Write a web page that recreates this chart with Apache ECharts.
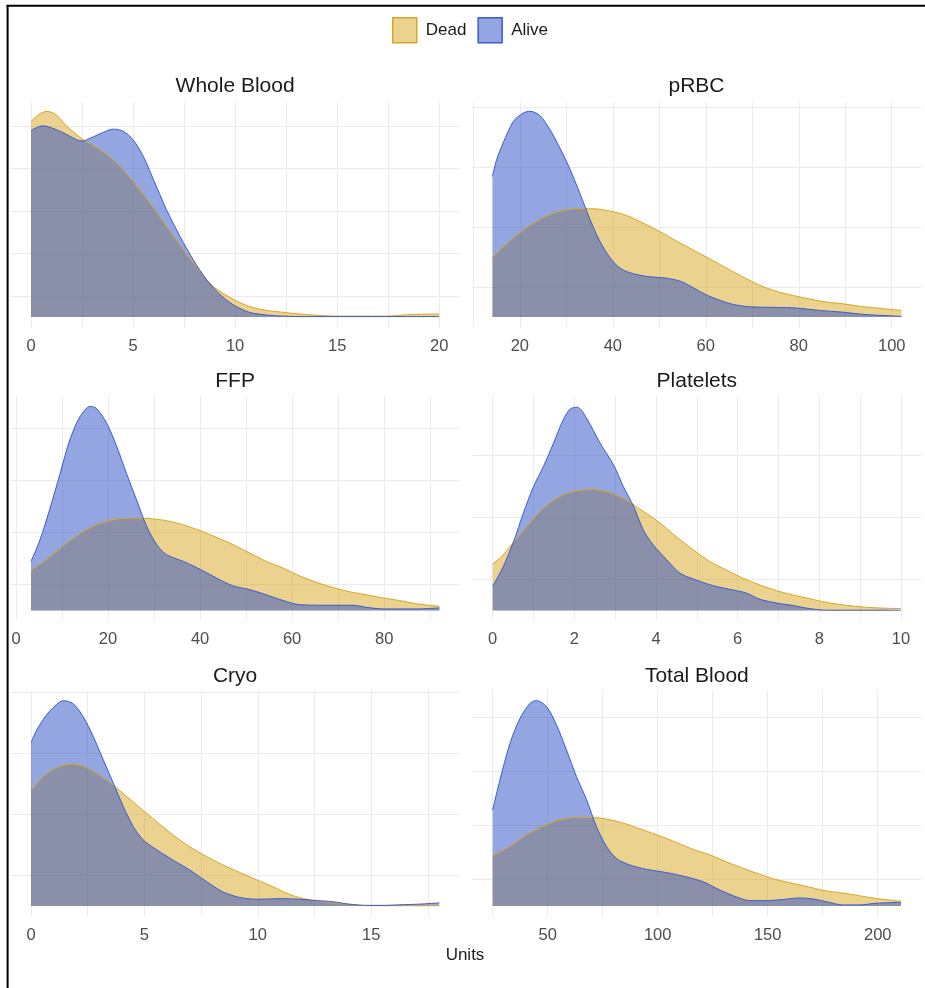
<!DOCTYPE html>
<html>
<head>
<meta charset="utf-8">
<script src="https://cdn.jsdelivr.net/npm/echarts@6/dist/echarts.min.js"></script>
<style>
  html, body { margin: 0; padding: 0; background: #fff; }
  #chart { width: 925px; height: 988px; }
</style>
</head>
<body>
<div id="chart"></div>
<script>
// names
const panelNames = ['Whole Blood', 'pRBC', 'FFP', 'Platelets', 'Cryo', 'Total Blood'];
const groupNames = ['Dead', 'Alive'];
const xAxisTitle = 'Units';

// density curves as [units, density]; density read in grid-line steps (y axis is unlabelled)
const wholeBloodDead = [[0,4.61],[0.4,4.78],[0.77,4.85],[1.2,4.78],[1.75,4.5],[2.24,4.3],[2.56,4.18],[3.38,3.95],[4.2,3.63],[5.0,3.2],[5.83,2.69],[6.64,2.14],[7.46,1.59],[8.28,1.08],[8.93,0.72],[9.9,0.42],[10.7,0.25],[11.5,0.16],[12.36,0.11],[13.2,0.07],[14,0.04],[15,0.02],[16,0.02],[17.4,0.02],[18.7,0.06],[20,0.07]];
const wholeBloodAlive = [[0,4.40],[0.57,4.51],[1.42,4.38],[2.24,4.18],[2.5,4.15],[2.73,4.18],[3.38,4.32],[4.03,4.43],[4.52,4.38],[5.0,4.18],[5.5,3.79],[6.0,3.24],[6.64,2.53],[7.3,1.9],[7.95,1.35],[8.6,0.88],[9.26,0.53],[9.9,0.29],[10.7,0.11],[11.5,0.05],[12.36,0.02],[13.5,0.01],[20,0.01]];

const prbcDead = [[14.1,1.00],[17.8,1.27],[21.4,1.49],[25,1.66],[28.6,1.77],[32.2,1.81],[35.8,1.81],[39.4,1.77],[42.9,1.70],[46.5,1.57],[50.1,1.43],[53.7,1.27],[57.3,1.12],[60.9,0.97],[64.4,0.82],[68,0.67],[71.6,0.53],[75.2,0.43],[78.8,0.36],[82.4,0.30],[86,0.25],[89.5,0.22],[93.1,0.18],[96.7,0.15],[102.1,0.11]];
const prbcAlive = [[14.1,2.35],[15,2.63],[16.4,2.91],[18.6,3.27],[20.7,3.41],[22.2,3.44],[24.3,3.37],[26.5,3.13],[28.6,2.83],[30.8,2.47],[32.9,2.07],[35.1,1.63],[37.2,1.27],[39.4,0.99],[41.5,0.82],[43.7,0.74],[47.2,0.68],[51.5,0.65],[54.4,0.60],[57.3,0.49],[60.1,0.37],[63,0.28],[65.9,0.21],[69.5,0.17],[75.2,0.16],[79.5,0.15],[84.5,0.11],[89.5,0.08],[94.5,0.04],[99.6,0.02],[102.1,0.01]];

const ffpDead = [[3.26,0.77],[7.4,1.03],[11,1.29],[14.6,1.51],[18.2,1.67],[21.9,1.75],[25.5,1.77],[29.1,1.76],[32.7,1.72],[36.4,1.64],[40,1.53],[43.6,1.40],[47.2,1.26],[50.8,1.10],[54.4,0.94],[58.1,0.81],[61.7,0.66],[65.3,0.54],[68.9,0.44],[72.5,0.36],[76.2,0.30],[79.8,0.24],[83.4,0.19],[87,0.13],[92,0.08]];
const ffpAlive = [[3.26,0.94],[5.2,1.35],[7.4,1.96],[9.6,2.63],[11.7,3.27],[13.9,3.71],[16.1,3.91],[17.5,3.87],[19.7,3.59],[21.9,3.14],[24,2.63],[26.2,2.12],[28.4,1.61],[30.6,1.26],[32.7,1.07],[36.4,0.94],[40,0.79],[43.6,0.62],[47.2,0.47],[50.8,0.40],[54.4,0.30],[58.1,0.19],[61.7,0.11],[68.9,0.10],[73.3,0.10],[76.2,0.06],[79.8,0.03],[87,0.03],[92,0.05]];

const plateletsDead = [[0,0.75],[0.26,0.90],[0.51,1.10],[0.83,1.35],[1.24,1.65],[1.65,1.84],[2.07,1.93],[2.47,1.95],[2.87,1.90],[3.27,1.78],[3.69,1.60],[4.1,1.41],[4.5,1.19],[4.91,0.98],[5.32,0.79],[5.73,0.65],[6.14,0.52],[6.55,0.41],[6.96,0.32],[7.36,0.25],[7.77,0.19],[8.18,0.13],[8.59,0.09],[9.0,0.06],[9.49,0.04],[10,0.03]];
const plateletsAlive = [[0,0.39],[0.26,0.71],[0.51,1.11],[0.75,1.57],[1.0,2.0],[1.24,2.32],[1.49,2.70],[1.73,3.08],[1.9,3.25],[2.07,3.28],[2.3,3.10],[2.63,2.70],[2.96,2.35],[3.2,2.0],[3.45,1.68],[3.69,1.30],[3.93,1.06],[4.26,0.82],[4.59,0.60],[4.91,0.51],[5.4,0.40],[5.89,0.33],[6.22,0.28],[6.55,0.18],[6.96,0.12],[7.36,0.08],[7.77,0.03],[8.2,0.005],[10,0.005]];

const cryoDead = [[0,1.89],[0.54,2.12],[1.13,2.26],[1.72,2.32],[2.3,2.29],[2.89,2.17],[3.48,2.02],[4.07,1.84],[4.8,1.61],[5.54,1.38],[6.27,1.16],[7.0,0.97],[7.74,0.81],[8.47,0.67],[9.2,0.55],[9.94,0.43],[10.7,0.31],[11.4,0.19],[12.14,0.11],[12.88,0.07],[13.6,0.04],[14.5,0.01],[15.5,0.005],[18,0.005]];
const cryoAlive = [[0,2.67],[0.25,2.88],[0.69,3.13],[1.13,3.30],[1.42,3.36],[1.86,3.31],[2.3,3.10],[2.75,2.77],[3.19,2.39],[3.63,2.01],[4.07,1.63],[4.51,1.30],[4.95,1.08],[5.54,0.92],[6.27,0.75],[7.0,0.59],[7.74,0.40],[8.47,0.23],[9.2,0.14],[9.94,0.11],[11.1,0.12],[11.85,0.11],[12.58,0.09],[13.3,0.07],[14.05,0.03],[14.8,0.01],[15.5,0.01],[16.26,0.02],[17.1,0.03],[18,0.05]];

const totalDead = [[25,0.93],[32.9,1.11],[40.4,1.32],[48,1.48],[55.6,1.60],[63.1,1.64],[70.7,1.64],[78.3,1.60],[85.8,1.52],[93.4,1.41],[101,1.30],[108.5,1.18],[116.1,1.05],[123.6,0.95],[131.2,0.82],[138.8,0.70],[146.3,0.59],[153.9,0.49],[161.4,0.42],[169,0.35],[176.6,0.28],[184.1,0.24],[191.7,0.19],[199.2,0.14],[210.6,0.09]];
const totalAlive = [[25,1.78],[28.3,2.34],[32.9,3.02],[37.4,3.48],[42,3.76],[45,3.81],[49.5,3.70],[54,3.36],[58.6,2.89],[63.1,2.40],[67.7,1.97],[72.2,1.47],[76.8,1.10],[81.3,0.88],[87.4,0.76],[94.9,0.68],[104,0.62],[113,0.54],[120.6,0.45],[128.1,0.30],[135.7,0.17],[141.8,0.10],[149.4,0.10],[156.9,0.12],[164.5,0.15],[170.6,0.13],[176.6,0.08],[184.1,0.02],[191.7,0.02],[199.2,0.05],[210.6,0.07]];

const deadCurves = [wholeBloodDead, prbcDead, ffpDead, plateletsDead, cryoDead, totalDead];
const aliveCurves = [wholeBloodAlive, prbcAlive, ffpAlive, plateletsAlive, cryoAlive, totalAlive];

// x ranges (data range padded 5% like ggplot) and label steps
const xMins = [-1, 9.6, -1.17, -0.5, -0.9, 15.7];
const xMaxs = [21, 106.4, 96.4, 10.5, 18.9, 219.9];
const xSteps = [5, 20, 20, 2, 5, 50];

// panel placement in px
const panels = [
  { left: 10.6,  width: 449,   top: 102,   base: 317,   step: 42.4, titleY: 86.5 },
  { left: 471.5, width: 450,   top: 102,   base: 317,   step: 59.8, titleY: 86.5 },
  { left: 10.6,  width: 449,   top: 396,   base: 610.5, step: 52.2, titleY: 381.5 },
  { left: 472.3, width: 449,   top: 396,   base: 610.5, step: 62,   titleY: 381.5 },
  { left: 10.6,  width: 449,   top: 690.5, base: 906,   step: 61.1, titleY: 676.5 },
  { left: 472.2, width: 449.3, top: 690.5, base: 906,   step: 53.9, titleY: 676.5 }
];

const font = '"Liberation Sans", Arial, sans-serif';
const gridColor = '#ebebeb';
const deadLine = '#DAA520', deadFill = 'rgba(218,165,32,0.5)';
const aliveLine = '#3A5BD4', aliveFill = 'rgba(39,78,198,0.5)';

let grids = [], xAxes = [], yAxes = [], series = [], graphics = [];
panels.forEach((p, i) => {
  grids.push({ left: p.left, top: p.top, width: p.width, height: p.base + 10 - p.top });
  xAxes.push({
    type: 'value', gridIndex: i, min: xMins[i], max: xMaxs[i],
    minInterval: xSteps[i], maxInterval: xSteps[i],
    axisLine: { show: false }, axisTick: { show: false },
    axisLabel: { color: '#4d4d4d', fontSize: 16.5, fontFamily: font, margin: 10.5, showMinLabel: false, showMaxLabel: false },
    splitLine: { show: true, showMinLine: false, showMaxLine: false, lineStyle: { color: gridColor, width: 1 } },
    minorTick: { show: false, splitNumber: 2 },
    minorSplitLine: { show: true, lineStyle: { color: gridColor, width: 1 } }
  });
  yAxes.push({
    type: 'value', gridIndex: i, min: -10 / p.step, max: (p.base - p.top) / p.step,
    minInterval: 1, maxInterval: 1,
    axisLine: { show: false }, axisTick: { show: false }, axisLabel: { show: false },
    splitLine: { show: false },
    minorTick: { show: false, splitNumber: 2 },
    minorSplitLine: { show: true, lineStyle: { color: gridColor, width: 1 } }
  });
  series.push({
    name: 'Dead', type: 'line', xAxisIndex: i, yAxisIndex: i, data: deadCurves[i],
    smooth: 0.3, showSymbol: false, silent: true,
    lineStyle: { color: deadLine, width: 1 }, itemStyle: { color: deadLine },
    areaStyle: { color: deadFill, opacity: 1 }
  });
  series.push({
    name: 'Alive', type: 'line', xAxisIndex: i, yAxisIndex: i, data: aliveCurves[i],
    smooth: 0.3, showSymbol: false, silent: true,
    lineStyle: { color: aliveLine, width: 1 }, itemStyle: { color: aliveLine },
    areaStyle: { color: aliveFill, opacity: 1 }
  });
  graphics.push({
    type: 'text', x: p.left + p.width / 2, y: p.titleY,
    style: { text: panelNames[i], fill: '#1a1a1a', font: '21px ' + font, textAlign: 'center', textVerticalAlign: 'middle' }
  });
});

graphics.push({
  type: 'text', x: 465, y: 955,
  style: { text: xAxisTitle, fill: '#1a1a1a', font: '17px ' + font, textAlign: 'center', textVerticalAlign: 'middle' }
});
// frame lines of the cropped figure
graphics.push({ type: 'line', shape: { x1: 7.6, y1: 5, x2: 7.6, y2: 988 }, style: { stroke: '#000', lineWidth: 2 } });
graphics.push({ type: 'line', shape: { x1: 6.6, y1: 5.8, x2: 925, y2: 5.8 }, style: { stroke: '#000', lineWidth: 2 } });

let myChart = echarts.init(document.getElementById('chart'));
let option = {
  animation: false,
  backgroundColor: '#fff',
  legend: {
    left: 392, top: 17, padding: 0, itemGap: 11, itemWidth: 24, itemHeight: 25, icon: 'rect',
    textStyle: { fontSize: 17, color: '#1a1a1a', fontFamily: font, padding: [0, 0, 0, 4] },
    data: [
      { name: groupNames[0], itemStyle: { color: deadFill, borderColor: deadLine, borderWidth: 1.5 } },
      { name: groupNames[1], itemStyle: { color: aliveFill, borderColor: aliveLine, borderWidth: 1.5 } }
    ]
  },
  grid: grids,
  xAxis: xAxes,
  yAxis: yAxes,
  series: series,
  graphic: graphics
};
myChart.setOption(option);
</script>
</body>
</html>
